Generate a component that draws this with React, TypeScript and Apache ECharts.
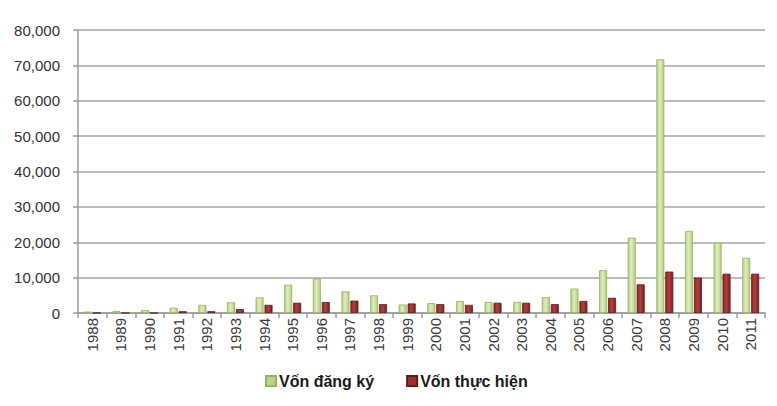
import React, { useEffect, useRef } from "react";
import * as echarts from "echarts";

const years = ["1988","1989","1990","1991","1992","1993","1994","1995","1996","1997","1998","1999","2000","2001","2002","2003","2004","2005","2006","2007","2008","2009","2010","2011"];
const registered = [400, 550, 800, 1500, 2300, 3000, 4400, 8000, 9700, 6100, 5000, 2400, 2800, 3400, 3100, 3100, 4500, 6900, 12100, 21300, 71700, 23200, 19900, 15600];
const implemented = [0, 0, 0, 500, 500, 1100, 2300, 2900, 3100, 3500, 2500, 2700, 2500, 2300, 2900, 2900, 2500, 3400, 4300, 8100, 11700, 10000, 11100, 11100];
const yTicks = { min: 0, max: 80000, interval: 10000 };

export default function App() {
  const ref = useRef<HTMLDivElement>(null);
  useEffect(() => {
    if (!ref.current) return;
    const chart = echarts.init(ref.current, null, { renderer: "svg" });
    const greenFill = new echarts.graphic.LinearGradient(0, 0, 1, 0, [
      { offset: 0, color: "#b6cf82" },
      { offset: 0.45, color: "#e0ecc3" },
      { offset: 1, color: "#b2cc7c" },
    ]);
    const redFill = new echarts.graphic.LinearGradient(0, 0, 1, 0, [
      { offset: 0, color: "#8a2422" },
      { offset: 0.45, color: "#b3403d" },
      { offset: 1, color: "#7a201e" },
    ]);
    chart.setOption({
      animation: false,
      backgroundColor: "#ffffff",
      grid: { left: 78, right: 12, top: 30, bottom: 93, containLabel: false },
      legend: {
        bottom: 12,
        left: 260,
        itemWidth: 10,
        itemHeight: 10,
        itemGap: 32,
        icon: "rect",
        textStyle: { fontFamily: "Liberation Sans, Arial, sans-serif", fontSize: 16, fontWeight: "bold", color: "#1a1a1a", padding: [0, 0, 0, -2] },
        data: [
          { name: "Vốn đăng ký", itemStyle: { color: "#b9d28c" } },
          { name: "Vốn thực hiện", itemStyle: { color: "#a0302d" } },
        ],
      },
      xAxis: {
        type: "category",
        data: years,
        boundaryGap: true,
        axisLine: { show: true, lineStyle: { color: "#9a9a9a", width: 1.5 } },
        axisTick: { show: true, alignWithLabel: false, length: 5, lineStyle: { color: "#9a9a9a", width: 1.5 } },
        axisLabel: { rotate: 90, interval: 0, fontFamily: "Liberation Sans, Arial, sans-serif", fontSize: 15, color: "#3a3a3a", margin: 5 },
      },
      yAxis: {
        type: "value",
        min: yTicks.min,
        max: yTicks.max,
        interval: yTicks.interval,
        axisLine: { show: true, lineStyle: { color: "#9a9a9a", width: 1.5 } },
        axisTick: { show: true, length: 5, lineStyle: { color: "#9a9a9a", width: 1.5 } },
        splitLine: { show: true, lineStyle: { color: "#a6a6a6", width: 1.5 } },
        axisLabel: {
          fontFamily: "Liberation Sans, Arial, sans-serif",
          fontSize: 15,
          color: "#333333",
          margin: 18,
          formatter: (v: number) => v.toLocaleString("en-US"),
        },
      },
      series: [
        {
          name: "Vốn đăng ký",
          type: "bar",
          data: registered,
          barWidth: 8,
          barGap: "12%",
          itemStyle: { color: greenFill, borderColor: "#95b35a", borderWidth: 0.8 },
        },
        {
          name: "Vốn thực hiện",
          type: "bar",
          data: implemented,
          barWidth: 8,
          itemStyle: { color: redFill, borderColor: "#5e1a18", borderWidth: 0.8 },
        },
      ],
    });
    return () => chart.dispose();
  }, []);
  return <div ref={ref} style={{ width: 777, height: 406, position: "absolute", left: 0, top: 0 }} />;
}
